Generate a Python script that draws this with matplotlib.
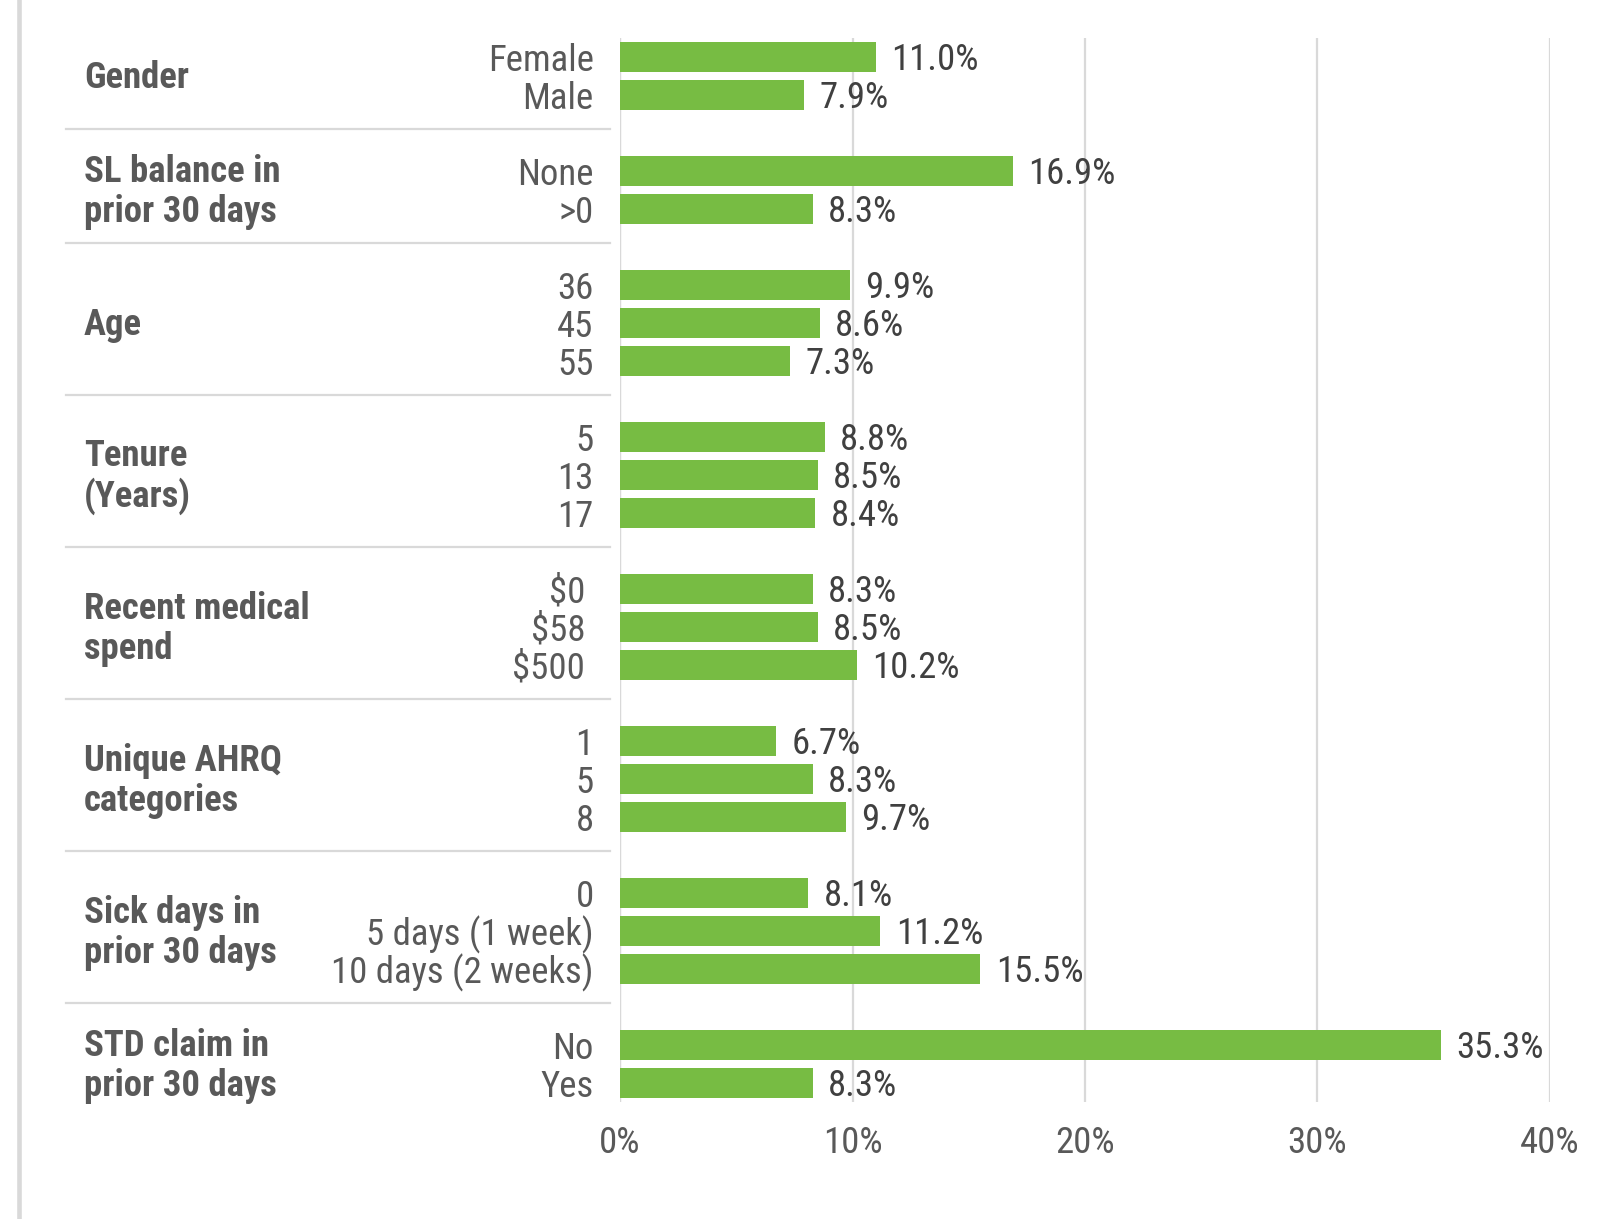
import numpy as np
import matplotlib.pyplot as plt
from matplotlib.lines import Line2D
from matplotlib import transforms, font_manager

# narrow font if there is one, otherwise Arial-like at a smaller size
have = {f.name for f in font_manager.fontManager.ttflist}
fam, fs = 'Liberation Sans', 23.5
for name in ['Liberation Sans Narrow', 'Roboto Condensed', 'DejaVu Sans Condensed']:
    if name in have:
        fam, fs = name, 26.5
        break
plt.rcParams['font.family'] = [fam, 'DejaVu Sans']

# groups of the chart, top to bottom
groups = [
    "Gender",
    "SL balance in\nprior 30 days",
    "Age",
    "Tenure\n(Years)",
    "Recent medical\nspend",
    "Unique AHRQ\ncategories",
    "Sick days in\nprior 30 days",
    "STD claim in\nprior 30 days",
]
labels = [
    ["Female", "Male"],
    ["None", ">0"],
    ["36", "45", "55"],
    ["5", "13", "17"],
    ["$0 ", "$58 ", "$500 "],
    ["1", "5", "8"],
    ["0", "5 days (1 week)", "10 days (2 weeks)"],
    ["No", "Yes"],
]
values = [
    [11.0, 7.9],
    [16.9, 8.3],
    [9.9, 8.6, 7.3],
    [8.8, 8.5, 8.4],
    [8.3, 8.5, 10.2],
    [6.7, 8.3, 9.7],
    [8.1, 11.2, 15.5],
    [35.3, 8.3],
]
xticks = [0, 10, 20, 30, 40]

green = "#77bc43"
grey_txt = "#595959"
val_txt = "#404040"
line_col = "#d9d9d9"

fig = plt.figure(figsize=(16.04, 12.19), dpi=100)
ax = fig.add_axes([0.3866, 0.0961, 0.9663 - 0.3866, 0.969 - 0.0961])

# slot positions: one empty slot between groups
ys, yl, vs, centers, seps = [], [], [], [], []
pos = 0
for g, (lab, val) in enumerate(zip(labels, values)):
    start = pos
    for l, v in zip(lab, val):
        ys.append(pos)
        yl.append(l)
        vs.append(v)
        pos += 1
    centers.append((start + pos - 1) / 2)
    if g < len(labels) - 1:
        seps.append(pos)
        pos += 1

ax.barh(ys, vs, height=0.8, color=green, zorder=3)
for y, v in zip(ys, vs):
    ax.annotate(f"{v:.1f}%", (v, y), xytext=(11, -2.5), textcoords='offset points',
                fontsize=fs, color=val_txt, ha='left', va='center')

ax.set_ylim(pos - 0.5, -0.5)
ax.set_xlim(0, 40)
ax.set_yticks(ys)
ax.set_yticklabels(yl, fontsize=fs, color=grey_txt)
ax.set_xticks(xticks)
ax.set_xticklabels([f"{t}%" for t in xticks], fontsize=fs, color=grey_txt)
ax.tick_params(axis='y', length=0, pad=19)
ax.tick_params(axis='x', length=0, pad=17)
ax.grid(axis='x', color=line_col, linewidth=1.6, zorder=0)
for s in ax.spines.values():
    s.set_visible(False)
ax.axvline(0, color=line_col, linewidth=1.6, zorder=1)

trans = transforms.blended_transform_factory(fig.transFigure, ax.transData)
for g, c in zip(groups, centers):
    ax.text(84 / 1604, c + 0.05, g, transform=trans, fontsize=fs, fontweight='bold',
            color=grey_txt, ha='left', va='center', linespacing=1.07 * 28 / fs)
for s in seps:
    ax.plot([66 / 1604, 610 / 1604], [s - 0.1, s - 0.1], transform=trans,
            color=line_col, linewidth=1.6, clip_on=False)

fig.add_artist(Line2D([18.8 / 1604, 18.8 / 1604], [0, 1], transform=fig.transFigure,
                      color=line_col, linewidth=3.3))

fig.savefig("out.png", dpi=100)
